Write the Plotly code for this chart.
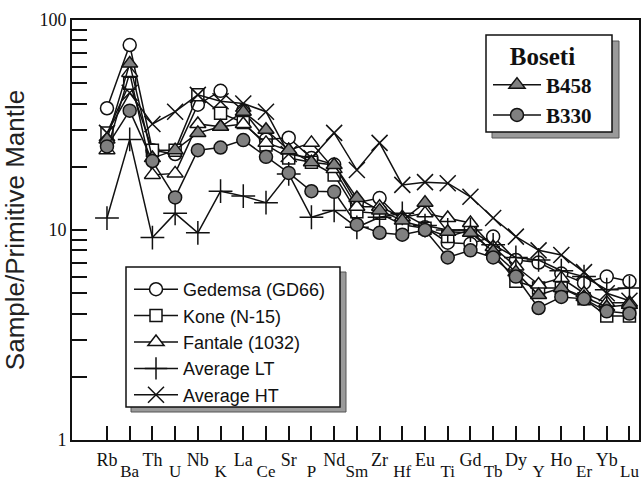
import plotly.graph_objects as go

elements = ["Rb", "Ba", "Th", "U", "Nb", "K", "La", "Ce", "Sr", "P", "Nd", "Sm",
            "Zr", "Hf", "Eu", "Ti", "Gd", "Tb", "Dy", "Y", "Ho", "Er", "Yb", "Lu"]

gedemsa = [38, 76, 24, 23, 39.5, 46, 37, 27, 27.5, 22, 20.5, 13.5, 14.2, 11, 10.3, 8.7, 8.6, 9.3, 7.2, 7.0, 6.2, 5.6, 6.0, 5.7]
kone = [29, 50, 24, 24, 44, 36, 32.5, 25.4, 22, 21, 18.3, 12.2, 12, 10.6, 10.2, 9.3, 10, 7.8, 5.7, 5.3, 5.3, 4.7, 3.9, 3.9]
fantale = [24, 56, 18.3, 18.6, 32, 31, 32, 26, 24, 26, 19.5, 12.9, 12.9, 11.5, 12, 11.4, 10.8, 8.3, 6.7, 5.5, 5.9, 5.0, 4.5, 4.5]
avg_lt = [11.4, 27, 9.2, 12, 9.7, 15.3, 14.5, 13.5, 18.5, 11.5, 12.4, 10.3, 11.5, 12, 10.5, 10, 10, 8.5, 7.4, 7.2, 6.4, 6.0, 5.2, 5.3]
avg_ht = [29, 45, 32, 36.6, 44, 41, 40, 36.6, 23, 22, 29, 19.3, 26, 16.4, 16.9, 16.7, 14.4, 11.4, 9.3, 8.0, 7.6, 6.3, 5.0, 4.6]
b458 = [27, 62, 22, 24, 29, 31, 36.6, 30, 24, 21, 20.4, 14.2, 12.4, 11.1, 13.5, 9.8, 9.7, 7.9, 6.3, 4.9, 5.3, 4.8, 4.3, 4.4]
b330 = [25, 37, 21.3, 14.3, 24, 24.7, 26.8, 22.3, 18.7, 15.3, 15.2, 10.6, 9.7, 9.5, 10, 7.4, 8.0, 7.4, 6.0, 4.25, 4.8, 4.7, 4.1, 4.0]

y_major = [1, 10, 100]
y_minor = [2, 3, 4, 5, 6, 7, 8, 9, 20, 30, 40, 50, 60, 70, 80, 90]

xi = list(range(len(elements)))
top_text = [e if i % 2 == 0 else "" for i, e in enumerate(elements)]
bot_vals = [i for i in xi if i % 2 == 1]
bot_text = [elements[i] for i in bot_vals]

INK = "#111111"
GRAY = "#808080"

# plot area in pixels
W, H = 641, 484
L, R, T, B = 72, 639, 20, 440


def px(x):
    return (x - L) / (R - L)


def py(y):
    return (B - y) / (B - T)


fig = go.Figure()

series = [
    ("Gedemsa (GD66)", gedemsa, "circle", "white", 13, "legend"),
    ("Kone (N-15)", kone, "square", "white", 12, "legend"),
    ("Fantale (1032)", fantale, "triangle-up", "white", 14, "legend"),
    ("Average LT", avg_lt, "cross-thin", "white", 17, "legend"),
    ("Average HT", avg_ht, "x-thin", "white", 16, "legend"),
    ("B458", b458, "triangle-up", GRAY, 14, "legend2"),
    ("B330", b330, "circle", GRAY, 13, "legend2"),
]

for name, vals, sym, fill, size, leg in series:
    fig.add_trace(go.Scatter(
        x=xi, y=vals, name=name, mode="lines+markers",
        line=dict(color=INK, width=1.5),
        marker=dict(symbol=sym, size=size, color=fill,
                    line=dict(color=INK, width=1.5)),
        legend=leg, legendgroup=name,
    ))

# empty trace to carry the second-row label axis
fig.add_trace(go.Scatter(x=[], y=[], xaxis="x2", yaxis="y", showlegend=False,
                         hoverinfo="skip"))

shapes = []
# legend 1 box with shadow
shapes.append(dict(type="rect", xref="paper", yref="paper",
                   x0=px(131), x1=px(346), y0=py(412), y1=py(272),
                   fillcolor="#9a9a9a", line=dict(color="#555555", width=1), layer="above"))
shapes.append(dict(type="rect", xref="paper", yref="paper",
                   x0=px(126), x1=px(340), y0=py(407), y1=py(267),
                   fillcolor="white", line=dict(color=INK, width=1.5), layer="above"))
# legend 2 box with shadow
shapes.append(dict(type="rect", xref="paper", yref="paper",
                   x0=px(492), x1=px(619), y0=py(138), y1=py(41),
                   fillcolor="#9a9a9a", line=dict(color="#555555", width=1), layer="above"))
shapes.append(dict(type="rect", xref="paper", yref="paper",
                   x0=px(486), x1=px(612), y0=py(132), y1=py(35),
                   fillcolor="white", line=dict(color=INK, width=1.5), layer="above"))

fig.update_layout(
    width=W, height=H,
    margin=dict(l=L, r=W - R, t=T, b=H - B, autoexpand=False),
    paper_bgcolor="white", plot_bgcolor="white",
    shapes=shapes,
    xaxis=dict(
        range=[-1.54, 23.42], tickmode="array", tickvals=xi, ticktext=top_text,
        ticks="inside", ticklen=14, tickwidth=1.5, tickcolor=INK,
        showline=True, linewidth=2, linecolor=INK, mirror=True,
        showgrid=False, zeroline=False, automargin=False,
        ticklabelstandoff=2,
        tickfont=dict(family="Liberation Serif", size=18, color=INK),
    ),
    xaxis2=dict(
        overlaying="x", matches="x", side="bottom", anchor="y",
        range=[-1.54, 23.42], tickmode="array", tickvals=bot_vals, ticktext=bot_text,
        ticks="", showline=False, showgrid=False, zeroline=False, automargin=False,
        ticklabelstandoff=19,
        tickfont=dict(family="Liberation Serif", size=17, color=INK),
    ),
    yaxis=dict(
        type="log", range=[0, 2], tickmode="array", tickvals=y_major,
        ticktext=[str(v) for v in y_major],
        ticks="inside", ticklen=15, tickwidth=1.5, tickcolor=INK,
        minor=dict(tickmode="array", tickvals=y_minor, ticks="inside", ticklen=15,
                   tickwidth=1.5, tickcolor=INK, showgrid=False),
        showline=True, linewidth=2, linecolor=INK, mirror=True,
        showgrid=False, zeroline=False, automargin=False,
        tickfont=dict(family="Liberation Serif", size=18, color=INK),
        title=dict(text="Sample/Primitive Mantle", standoff=10,
                   font=dict(family="Liberation Sans", size=26, color="#222222")),
    ),
    legend=dict(
        x=px(129), y=py(271), xanchor="left", yanchor="top",
        bgcolor="rgba(0,0,0,0)", borderwidth=0,
        font=dict(family="Liberation Sans", size=18, color=INK),
        itemwidth=44, traceorder="normal", tracegroupgap=0,
    ),
    legend2=dict(
        x=px(488), y=py(32), xanchor="left", yanchor="top",
        bgcolor="rgba(0,0,0,0)", borderwidth=0,
        title=dict(text="Boseti", side="top center",
                   font=dict(family="Liberation Serif", size=25, color=INK, weight="bold")),
        font=dict(family="Liberation Serif", size=21, color=INK, weight="bold"),
        itemwidth=48, traceorder="grouped", tracegroupgap=0,
    ),
    showlegend=True,
)

fig.write_html("out.html")
